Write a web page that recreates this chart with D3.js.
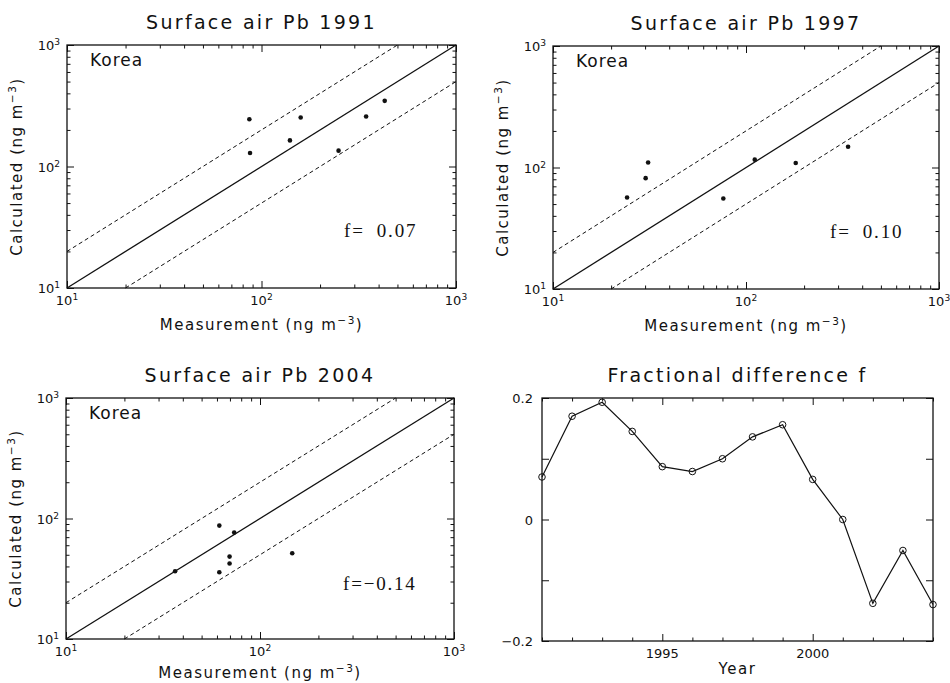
<!DOCTYPE html>
<html>
<head>
<meta charset="utf-8">
<script src="https://cdn.jsdelivr.net/npm/d3@7"></script>
<style>
  html, body { margin: 0; padding: 0; background: #fff; }
  svg { display: block; }
  text { font-family: "DejaVu Sans", sans-serif; fill: #111; }
</style>
</head>
<body>
<svg id="chart" width="950" height="683"></svg>
<script>
// ---------------- DATA ----------------
const titles = ["Surface air Pb 1991", "Surface air Pb 1997", "Surface air Pb 2004", "Fractional difference f"];
const regionLabel = "Korea";
const fLabels = ["f=\u2009 0.07", "f=\u2009 0.10", "f=\u22120.14"];

// scatter panels: measurement (x) and calculated (y), ng m-3
const meas1991 = [86.6, 87.3, 140, 159, 249, 345, 430];
const calc1991 = [245, 129, 164, 253, 135, 258, 347];
const meas1997 = [24.2, 30.2, 31.1, 76.3, 111, 181, 338];
const calc1997 = [56.6, 81.7, 110, 55.6, 116, 109, 148];
const meas2004 = [36.5, 61.7, 73.6, 69.7, 69.7, 61.7, 146.6];
const calc2004 = [36.5, 87.3, 76.4, 48.3, 42.3, 35.8, 51.5];

// fractional difference time series
const years = [1991, 1992, 1993, 1994, 1995, 1996, 1997, 1998, 1999, 2000, 2001, 2002, 2003, 2004];
const fValues = [0.070, 0.170, 0.193, 0.145, 0.087, 0.079, 0.100, 0.136, 0.156, 0.066, 0.000, -0.138, -0.051, -0.140];

// axis ticks / labels
const logDomain = [10, 1000];
const logMajor = [10, 100, 1000];
const logExponents = ["1", "2", "3"];
const yearDomain = [1991, 2004];
const yearMajor = [1995, 2000];
const yearMajorLabels = ["1995", "2000"];
const fDomain = [-0.2, 0.2];
const fTicks = [-0.2, -0.1, 0, 0.1, 0.2];
const fTickLabels = ["\u22120.2", "0", "0.2"];
const fLabelTicks = [-0.2, 0, 0.2];

const xTitle = "Measurement (ng m";
const yTitle = "Calculated (ng m";
const unitExp = "\u22123";
const yearTitle = "Year";

// ---------------- LAYOUT ----------------
const svg = d3.select("#chart");
const panels = [
  { x0: 67,  x1: 456, y0: 45,  y1: 288, xlab: 42, meas: meas1991, calc: calc1991, f: fLabels[0], title: titles[0] },
  { x0: 553, x1: 939, y0: 46,  y1: 289, xlab: 42, meas: meas1997, calc: calc1997, f: fLabels[1], title: titles[1] },
  { x0: 66,  x1: 454, y0: 398, y1: 639, xlab: 39, meas: meas2004, calc: calc2004, f: fLabels[2], title: titles[2] }
];
const titleSize = 19, titleSpacing = 2.3;
const labelSize = 15, labelSpacing = 1.5;
const tickSize = 13;

function minorLogTicks() {
  const t = [];
  for (let d = 10; d < 1000; d *= 10) for (let k = 2; k <= 9; k++) t.push(d * k);
  return t;
}
const logMinor = minorLogTicks();

function styleAxis(g) {
  g.select(".domain").remove();
  g.selectAll(".tick line").attr("stroke", "#111").attr("stroke-width", 1);
}

function powerLabel(sel, base, exp, size) {
  sel.append("tspan").text(base);
  sel.append("tspan").text(exp).attr("font-size", size * 0.7).attr("dy", -size * 0.38);
}

panels.forEach(p => {
  const g = svg.append("g");
  const x = d3.scaleLog().domain(logDomain).range([p.x0, p.x1]);
  const y = d3.scaleLog().domain(logDomain).range([p.y1, p.y0]);

  // ticks inward on all sides
  const axes = [
    { gen: d3.axisBottom, t: `translate(0,${p.y1})`, s: x },
    { gen: d3.axisTop, t: `translate(0,${p.y0})`, s: x },
    { gen: d3.axisLeft, t: `translate(${p.x0},0)`, s: y },
    { gen: d3.axisRight, t: `translate(${p.x1},0)`, s: y }
  ];
  axes.forEach(a => {
    g.append("g").attr("transform", a.t)
      .call(a.gen(a.s).tickValues(logMinor).tickSize(-3.5).tickFormat(""))
      .call(styleAxis);
    g.append("g").attr("transform", a.t)
      .call(a.gen(a.s).tickValues(logMajor).tickSize(-7).tickFormat(""))
      .call(styleAxis);
  });

  // tick labels
  logMajor.forEach((v, i) => {
    const tx = g.append("text").attr("x", x(v)).attr("y", p.y1 + 17)
      .attr("text-anchor", "middle").attr("font-size", tickSize);
    powerLabel(tx, "10", logExponents[i], tickSize);
    const ty = g.append("text").attr("x", p.x0 - 7).attr("y", y(v) + 5)
      .attr("text-anchor", "end").attr("font-size", tickSize);
    powerLabel(ty, "10", logExponents[i], tickSize);
  });

  // reference lines 1:1, 2:1, 1:2
  const line = d3.line().x(d => x(d[0])).y(d => y(d[1]));
  g.append("path").datum([[10, 10], [1000, 1000]]).attr("d", line)
    .attr("fill", "none").attr("stroke", "#111").attr("stroke-width", 1.3);
  g.append("path").datum([[10, 20], [500, 1000]]).attr("d", line)
    .attr("fill", "none").attr("stroke", "#111").attr("stroke-width", 1).attr("stroke-dasharray", "4,3");
  g.append("path").datum([[20, 10], [1000, 500]]).attr("d", line)
    .attr("fill", "none").attr("stroke", "#111").attr("stroke-width", 1).attr("stroke-dasharray", "4,3");

  // points
  g.selectAll("circle.pt").data(p.meas.map((m, i) => [m, p.calc[i]])).join("circle")
    .attr("class", "pt").attr("cx", d => x(d[0])).attr("cy", d => y(d[1]))
    .attr("r", 2.3).attr("fill", "#111");

  // frame
  g.append("rect").attr("x", p.x0).attr("y", p.y0).attr("width", p.x1 - p.x0).attr("height", p.y1 - p.y0)
    .attr("fill", "none").attr("stroke", "#111").attr("stroke-width", 1.3);

  // texts
  g.append("text").attr("x", (p.x0 + p.x1) / 2).attr("y", p.y0 - 16).attr("text-anchor", "middle")
    .attr("font-size", titleSize).attr("letter-spacing", titleSpacing).text(p.title);
  g.append("text").attr("x", p.x0 + 23).attr("y", p.y0 + 21).attr("font-size", 17)
    .attr("letter-spacing", 1).text(regionLabel);
  g.append("text").attr("x", p.x0 + 277).attr("y", p.y0 + 192).attr("font-size", 19)
    .attr("letter-spacing", 1.8)
    .style("font-family", "'Liberation Serif', 'DejaVu Serif', serif").text(p.f);

  const xl = g.append("text").attr("x", (p.x0 + p.x1) / 2).attr("y", p.y1 + p.xlab).attr("text-anchor", "middle")
    .attr("font-size", labelSize).attr("letter-spacing", labelSpacing);
  xl.append("tspan").text(xTitle);
  xl.append("tspan").text(unitExp).attr("font-size", labelSize * 0.7).attr("dy", -labelSize * 0.4);
  xl.append("tspan").text(")").attr("dy", labelSize * 0.4);

  const cy = (p.y0 + p.y1) / 2, cx = p.x0 - 45;
  const yl = g.append("text").attr("transform", `translate(${cx},${cy}) rotate(-90)`).attr("text-anchor", "middle")
    .attr("font-size", labelSize).attr("letter-spacing", labelSpacing);
  yl.append("tspan").text(yTitle);
  yl.append("tspan").text(unitExp).attr("font-size", labelSize * 0.7).attr("dy", -labelSize * 0.4);
  yl.append("tspan").text(")").attr("dy", labelSize * 0.4);
});

// ---------------- PANEL 4: fractional difference ----------------
(function () {
  const p = { x0: 542, x1: 933, y0: 398, y1: 641 };
  const g = svg.append("g");
  const x = d3.scaleLinear().domain(yearDomain).range([p.x0, p.x1]);
  const y = d3.scaleLinear().domain(fDomain).range([p.y1, p.y0]);
  const allYears = d3.range(yearDomain[0], yearDomain[1] + 1);
  const minorYears = allYears.filter(v => !yearMajor.includes(v));

  [[d3.axisBottom, `translate(0,${p.y1})`], [d3.axisTop, `translate(0,${p.y0})`]].forEach(([gen, t]) => {
    g.append("g").attr("transform", t).call(gen(x).tickValues(minorYears).tickSize(-3.5).tickFormat("")).call(styleAxis);
    g.append("g").attr("transform", t).call(gen(x).tickValues(yearMajor).tickSize(-7).tickFormat("")).call(styleAxis);
  });
  [[d3.axisLeft, `translate(${p.x0},0)`], [d3.axisRight, `translate(${p.x1},0)`]].forEach(([gen, t]) => {
    g.append("g").attr("transform", t).call(gen(y).tickValues(fTicks).tickSize(-7).tickFormat("")).call(styleAxis);
  });

  yearMajor.forEach((v, i) => {
    g.append("text").attr("x", x(v)).attr("y", p.y1 + 17).attr("text-anchor", "middle")
      .attr("font-size", tickSize).text(yearMajorLabels[i]);
  });
  fLabelTicks.forEach((v, i) => {
    g.append("text").attr("x", p.x0 - 9).attr("y", y(v) + 5).attr("text-anchor", "end")
      .attr("font-size", tickSize).text(fTickLabels[i]);
  });

  const line = d3.line().x((d, i) => x(years[i])).y(d => y(d));
  g.append("path").datum(fValues).attr("d", line).attr("fill", "none")
    .attr("stroke", "#111").attr("stroke-width", 1.2);
  g.selectAll("circle.f").data(fValues).join("circle").attr("class", "f")
    .attr("cx", (d, i) => x(years[i])).attr("cy", d => y(d)).attr("r", 3.3)
    .attr("fill", "none").attr("stroke", "#111").attr("stroke-width", 1);

  g.append("rect").attr("x", p.x0).attr("y", p.y0).attr("width", p.x1 - p.x0).attr("height", p.y1 - p.y0)
    .attr("fill", "none").attr("stroke", "#111").attr("stroke-width", 1.3);

  g.append("text").attr("x", (p.x0 + p.x1) / 2).attr("y", p.y0 - 16).attr("text-anchor", "middle")
    .attr("font-size", titleSize).attr("letter-spacing", titleSpacing).text(titles[3]);
  g.append("text").attr("x", (p.x0 + p.x1) / 2).attr("y", p.y1 + 33).attr("text-anchor", "middle")
    .attr("font-size", labelSize).attr("letter-spacing", labelSpacing).text(yearTitle);
})();
</script>
</body>
</html>
